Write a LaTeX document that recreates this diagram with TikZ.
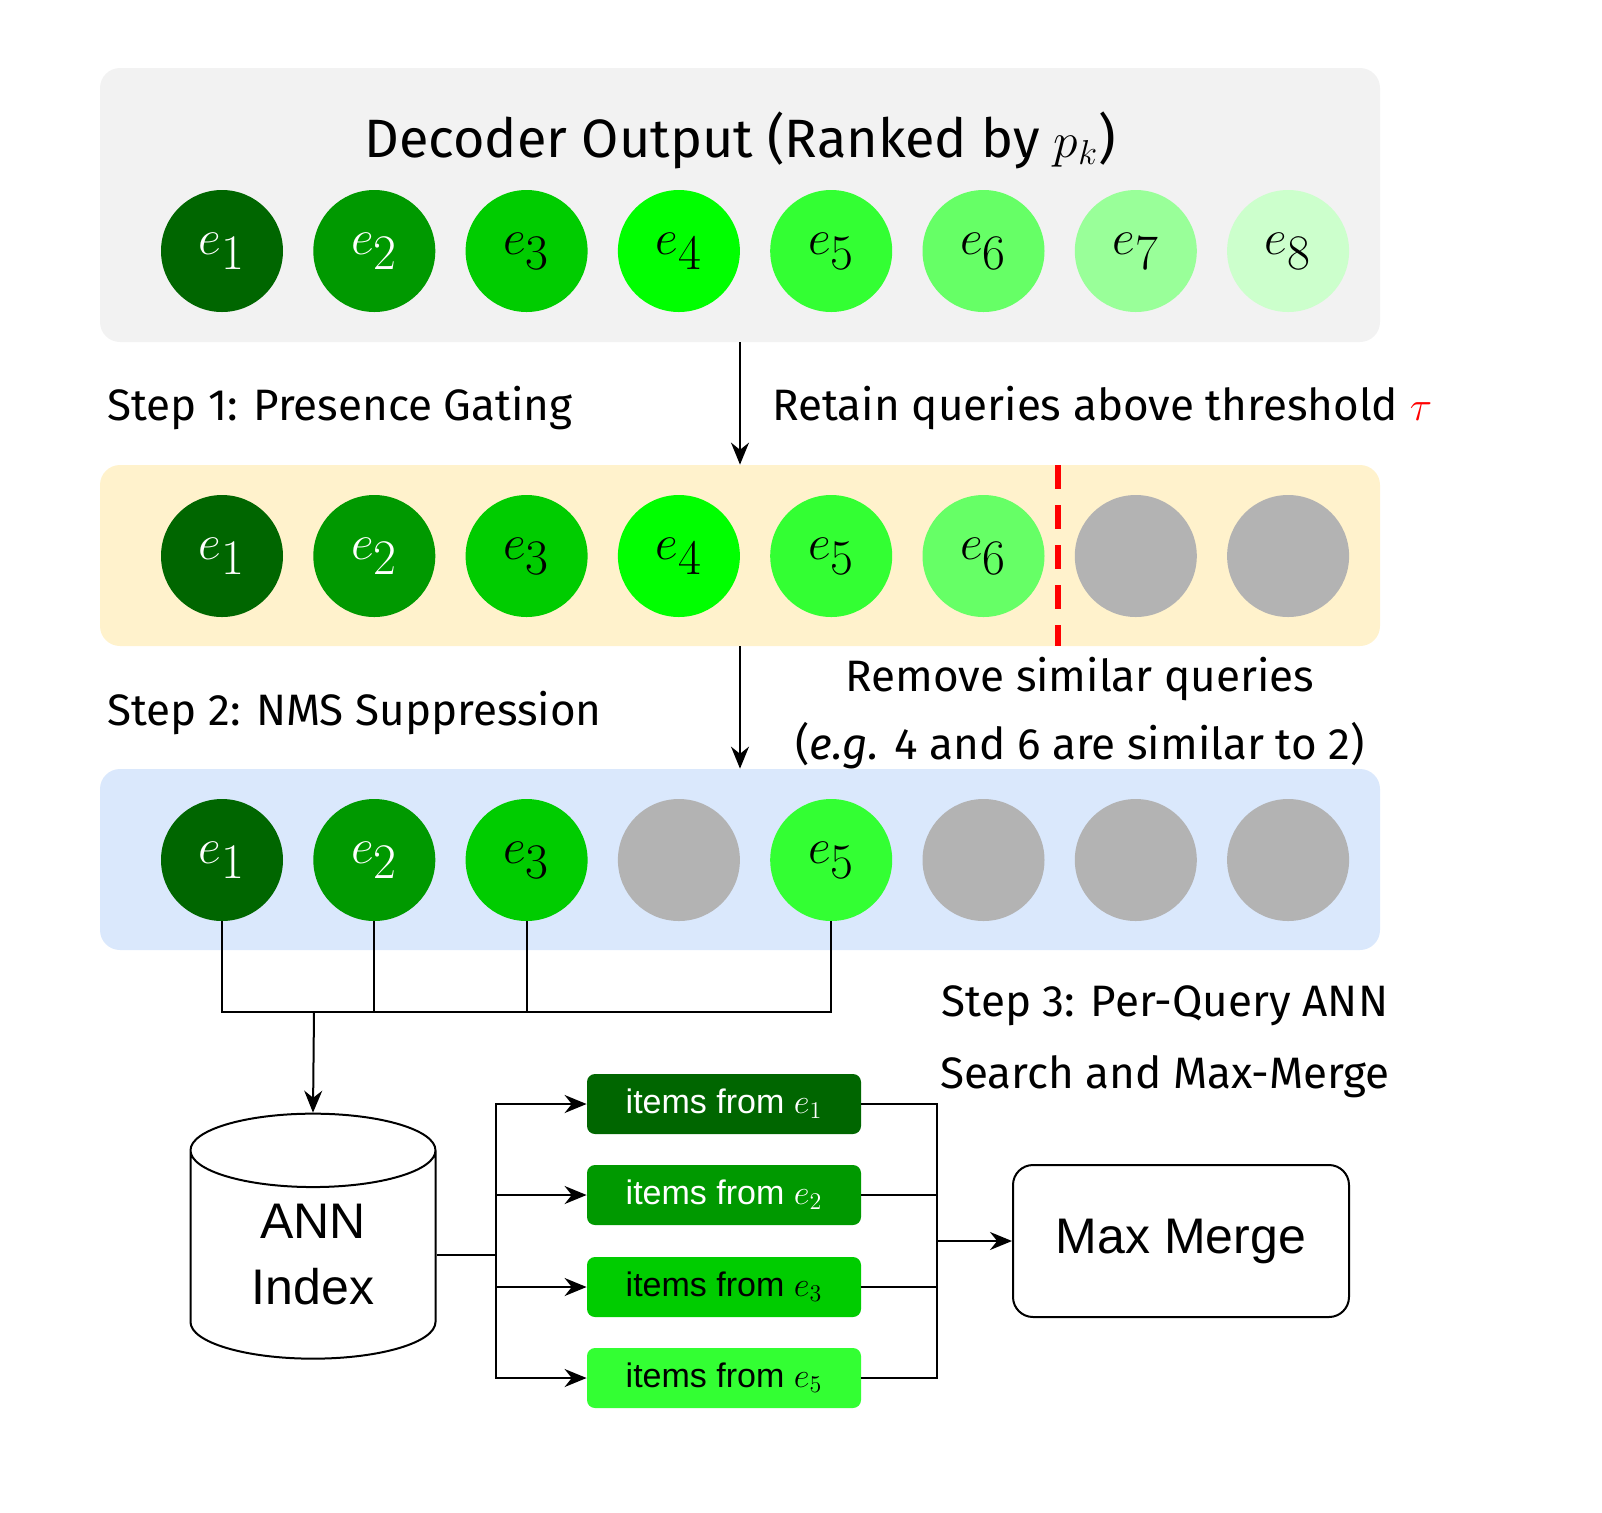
\documentclass[tikz,border=0pt]{standalone}
\usepackage{fontspec}
\setmainfont{Liberation Sans}
\newfontfamily\hand{Fira Sans}
\usetikzlibrary{shapes.geometric}
\usetikzlibrary{arrows.meta}
\definecolor{gA}{HTML}{006600}
\definecolor{gB}{HTML}{009900}
\definecolor{gC}{HTML}{00CC00}
\definecolor{gD}{HTML}{00FF00}
\definecolor{gE}{HTML}{33FF33}
\definecolor{gF}{HTML}{66FF66}
\definecolor{gG}{HTML}{99FF99}
\definecolor{gH}{HTML}{CCFFCC}
\definecolor{offq}{HTML}{B3B3B3}
\definecolor{gateband}{HTML}{FFF2CC}
\definecolor{nmsband}{HTML}{DAE8FC}

\begin{document}
\begin{tikzpicture}[x=0.5pt,y=-0.5pt,
  query/.style={circle,minimum size=61pt,inner sep=0pt,font=\fontsize{35}{40}\selectfont},
  band/.style={rounded corners=10pt,minimum width=640pt,inner sep=0pt},
  steptext/.style={font=\hand\fontsize{22}{30}\selectfont,inner sep=0pt},
  items/.style={rounded corners=4pt,minimum width=137pt,minimum height=30pt,inner sep=0pt,font=\fontsize{17}{20}\selectfont},
  link/.style={line width=1pt},
  arr/.style={line width=1pt,-{Stealth[length=11pt,width=9pt]}}]
\useasboundingbox (0,0) rectangle (1602,1512);

% bands
\node[band,fill=black!5,minimum height=137pt] (out) at (740,205) {};
\node[band,fill=gateband,minimum height=90.5pt] (gate) at (740,555.5) {};
\node[band,fill=nmsband,minimum height=90.5pt] (nms) at (740,859.5) {};

\node[font=\hand\fontsize{27}{32}\selectfont] (title) at (740,140) {Decoder Output (Ranked by $p_k$)};

% row 1
\foreach \i/\c/\t in {1/gA/white,2/gB/white,3/gC/black,4/gD/black,5/gE/black,6/gF/black,7/gG/black,8/gH/black}
  \node[query,fill=\c,text=\t] (a\i) at ({222+152.3*(\i-1)},251) {$e_\i$};
% row 2
\foreach \i/\c/\t in {1/gA/white,2/gB/white,3/gC/black,4/gD/black,5/gE/black,6/gF/black}
  \node[query,fill=\c,text=\t] (b\i) at ({222+152.3*(\i-1)},556) {$e_\i$};
\foreach \i in {7,8}
  \node[query,fill=offq] (b\i) at ({222+152.3*(\i-1)},556) {};
\draw[red,line width=3pt,dash pattern=on 12pt off 8pt] (1058,465) -- (1058,646);
% row 3
\foreach \i/\c/\t in {1/gA/white,2/gB/white,3/gC/black,5/gE/black}
  \node[query,fill=\c,text=\t] (c\i) at ({222+152.3*(\i-1)},860) {$e_\i$};
\foreach \i in {4,6,7,8}
  \node[query,fill=offq] (c\i) at ({222+152.3*(\i-1)},860) {};

% steps
\draw[arr] (out.south) -- (gate.north);
\draw[arr] (gate.south) -- (nms.north);
\node[steptext,anchor=west] (s1) at (107,408) {Step 1: Presence Gating};
\node[steptext,anchor=west] (r1) at (772,408) {Retain queries above threshold \textcolor{red}{$\tau$}};
\node[steptext,anchor=west] (s2) at (107,713) {Step 2: NMS Suppression};
\node[steptext,align=center] (r2) at (1080,713) {Remove similar queries\\[4pt](\textit{e.g.} 4 and 6 are similar to 2)};
\node[steptext,align=center] (s3) at (1165,1042) {Step 3: Per-Query ANN\\[6pt]Search and Max-Merge};

% ANN stage
\node[cylinder,shape border rotate=90,draw,line width=1pt,aspect=0.6,minimum width=122.5pt,minimum height=122.5pt,inner sep=0pt,align=center,font=\fontsize{25}{33}\selectfont] (ann) at (313,1255) {ANN\\Index};
\coordinate (join) at (314,1012);
\foreach \i in {1,2,3,5}
  \draw[link] (c\i.south) |- (join);
\draw[link] (c1.south) |- (c5.south |- join) -- (c5.south);
\draw[arr] (join) -- (ann.top);

\node[items,fill=gA,text=white] (i1) at (724,1104) {items from $e_1$};
\node[items,fill=gB,text=white] (i2) at (724,1195) {items from $e_2$};
\node[items,fill=gC] (i3) at (724,1287) {items from $e_3$};
\node[items,fill=gE] (i5) at (724,1378) {items from $e_5$};
\node[draw,line width=1pt,rounded corners=10pt,minimum width=168pt,minimum height=76pt,font=\fontsize{25}{30}\selectfont] (merge) at (1181,1241) {Max Merge};

\coordinate (fan) at (496,1255);
\coordinate (col) at (937,1241);
\draw[link] (ann.east |- fan) -- (fan);
\foreach \i in {1,2,3,5} {
  \draw[arr] (fan) |- (i\i.west);
  \draw[link] (i\i.east) -| (col);
}
\draw[arr] (col) -- (merge.west);
\end{tikzpicture}
\end{document}
